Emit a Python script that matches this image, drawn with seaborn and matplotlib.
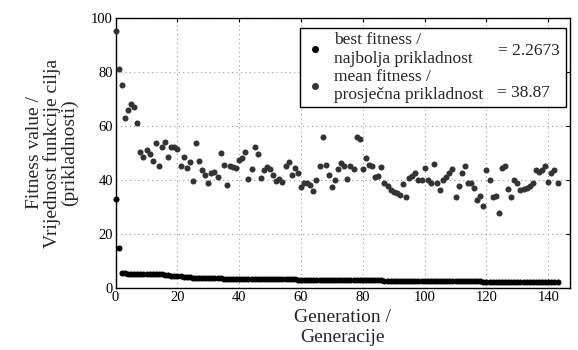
import numpy as np
import pandas as pd
import matplotlib
matplotlib.use("Agg")
import matplotlib.pyplot as plt
import seaborn as sns
from matplotlib.lines import Line2D

mean_fitness = [
    95, 81, 75, 63, 66, 68, 67, 61, 50.5, 48.6,
    51, 49.6, 47, 53.8, 45.3, 52.3, 54.2, 48.5, 52.1, 52.1,
    51.4, 45.2, 48.4, 44.3, 46.5, 39.8, 53.6, 47.2, 43.7, 41.9,
    38.8, 42.5, 42.8, 41.2, 49.9, 45.6, 38.0, 45.2, 44.7, 44.3,
    47.4, 48.0, 50.5, 40.4, 44.1, 52.1, 49.6, 40.6, 43.7, 44.7,
    44.0, 41.9, 39.6, 40.2, 39.4, 45.2, 46.8, 41.9, 44.3, 42.7,
    37.5, 38.7, 39.0, 38.0, 36.0, 40.0, 45.2, 56.0, 45.6, 41.9,
    37.5, 40.0, 44.0, 46.2, 45.2, 40.3, 45.2, 44.0, 56.0, 55.0,
    44.1, 48.0, 45.7, 45.2, 41.0, 41.5, 44.7, 38.8, 37.8, 36.3,
    35.7, 35.3, 34.4, 38.5, 33.6, 40.6, 41.5, 42.7, 40.0, 40.0,
    44.3, 40.0, 39.0, 45.9, 38.8, 36.3, 40.0, 41.0, 42.7, 44.0,
    33.6, 37.8, 42.5, 45.2, 39.0, 38.8, 36.9, 32.6, 34.0, 30.4,
    43.7, 40.0, 33.6, 34.0, 27.9, 44.3, 45.2, 36.5, 33.6, 40.0,
    39.0, 36.3, 36.5, 36.9, 37.8, 39.0, 43.7, 43.1, 43.7, 45.2,
    39.4, 42.7, 43.7, 38.87,
]

best_fitness = [
    33, 15, 5.4, 5.4, 5.35, 5.3, 5.3, 5.3, 5.25, 5.25,
    5.2, 5.2, 5.2, 5.15, 5.1, 5.1, 5.0, 4.7, 4.6, 4.5,
    4.4, 4.3, 4.2, 4.1, 4.0, 3.9, 3.8, 3.8, 3.7, 3.7,
    3.7, 3.6, 3.6, 3.6, 3.6, 3.5, 3.5, 3.5, 3.5, 3.5,
    3.4, 3.4, 3.4, 3.4, 3.4, 3.35, 3.35, 3.35, 3.3, 3.3,
    3.3, 3.3, 3.25, 3.25, 3.25, 3.2, 3.2, 3.2, 3.2, 3.15,
    3.15, 3.1, 3.1, 3.1, 3.1, 3.05, 3.05, 3.0, 3.0, 3.0,
    3.0, 2.95, 2.95, 2.95, 2.9, 2.9, 2.9, 2.9, 2.85, 2.85,
    2.85, 2.85, 2.8, 2.8, 2.8, 2.8, 2.8, 2.75, 2.75, 2.75,
    2.75, 2.75, 2.7, 2.7, 2.7, 2.7, 2.7, 2.65, 2.65, 2.65,
    2.65, 2.6, 2.6, 2.6, 2.6, 2.6, 2.55, 2.55, 2.55, 2.55,
    2.5, 2.5, 2.5, 2.5, 2.5, 2.45, 2.45, 2.45, 2.45, 2.4,
    2.4, 2.4, 2.4, 2.4, 2.35, 2.35, 2.35, 2.35, 2.35, 2.3,
    2.3, 2.3, 2.3, 2.3, 2.3, 2.3, 2.28, 2.28, 2.28, 2.28,
    2.2673, 2.2673, 2.2673, 2.2673,
]

generations = list(range(len(mean_fitness)))
x_ticks = [0, 20, 40, 60, 80, 100, 120, 140]
y_ticks = [0, 20, 40, 60, 80, 100]
legend_labels = ["best fitness /\nnajbolja prikladnost",
                 "mean fitness /\nprosječna prikladnost"]
final_texts = ["= 2.2673", "= 38.87"]

sns.set_style("white")
plt.rcParams["font.family"] = ["Liberation Serif", "DejaVu Serif"]

fig = plt.figure(figsize=(5.78, 3.5), dpi=100)
ax = fig.add_axes([0.2, 0.177, 0.786, 0.772])

df_mean = pd.DataFrame({"gen": generations, "val": mean_fitness})
df_best = pd.DataFrame({"gen": generations, "val": best_fitness})

sns.scatterplot(data=df_mean, x="gen", y="val", ax=ax, color="#333333",
                s=19, linewidth=0, zorder=3, clip_on=False)
sns.scatterplot(data=df_best, x="gen", y="val", ax=ax, color="black",
                s=19, linewidth=0, zorder=4, clip_on=False)

ax.set_xlim(0, 147)
ax.set_ylim(0, 100)
ax.set_xticks(x_ticks)
ax.set_yticks(y_ticks)
ax.tick_params(axis="both", direction="in", length=3, labelsize=10.5,
               colors="black", top=True, right=True, pad=2)
ax.grid(True, linestyle=(0, (1, 3)), color="#999999", linewidth=0.8)
for sp in ax.spines.values():
    sp.set_color("black")
    sp.set_linewidth(1.0)

ax.set_xlabel("Generation /\nGeneracije", fontsize=14, linespacing=1.2, labelpad=4)
ax.set_ylabel("Fitness value /\nVrijednost funkcije cilja\n(prikladnosti)",
              fontsize=14, linespacing=1.0, labelpad=9)

handles = [
    Line2D([], [], marker="o", linestyle="none", color="black", markersize=4),
    Line2D([], [], marker="o", linestyle="none", color="#333333", markersize=4),
]
leg = ax.legend(handles, legend_labels, loc="upper left",
                bbox_to_anchor=(0.406, 0.667, 0.585, 0.296), mode="expand",
                fontsize=12.5, frameon=True, fancybox=False, borderpad=0.25,
                handletextpad=0.5, labelspacing=0.12, handlelength=1.2,
                borderaxespad=0)
leg.get_frame().set_edgecolor("black")
leg.get_frame().set_linewidth(1.0)
leg.get_frame().set_alpha(1)
leg.set_zorder(10)
for t in leg.get_texts():
    t.set_linespacing(1.2)

fig.text(560 / 578, 1 - 51 / 350, final_texts[0], fontsize=12.5,
         va="center", ha="right", zorder=20)
fig.text(497 / 578, 1 - 93 / 350, final_texts[1], fontsize=12.5,
         va="center", ha="left", zorder=20)

fig.savefig("out.png", dpi=100)
